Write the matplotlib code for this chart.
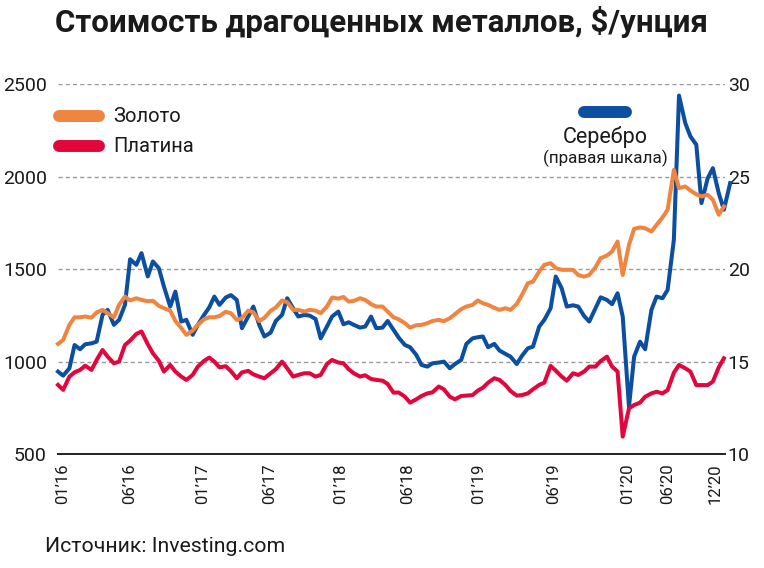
import matplotlib
matplotlib.use("Agg")
import matplotlib.pyplot as plt
from matplotlib.lines import Line2D
import pandas as pd

plt.rcParams['font.family'] = ['Roboto', 'DejaVu Sans']

dates = pd.date_range('2016-01-01', periods=121, freq='SMS')

gold = [1096, 1117, 1199, 1240, 1240, 1244, 1238, 1266, 1280, 1262,
        1240, 1307, 1352, 1331, 1343, 1334, 1327, 1329, 1302, 1289,
        1276, 1220, 1182, 1145, 1168, 1199, 1229, 1240, 1240, 1247,
        1270, 1262, 1226, 1235, 1276, 1267, 1220, 1237, 1275, 1293,
        1331, 1322, 1280, 1280, 1271, 1280, 1276, 1262, 1298, 1347,
        1341, 1350, 1325, 1329, 1343, 1334, 1311, 1298, 1298, 1271,
        1240, 1229, 1208, 1184, 1197, 1199, 1208, 1220, 1226, 1219,
        1235, 1257, 1284, 1298, 1307, 1331, 1316, 1307, 1291, 1280,
        1289, 1280, 1312, 1361, 1424, 1433, 1488, 1524, 1533, 1506,
        1497, 1497, 1497, 1469, 1460, 1469, 1511, 1560, 1574, 1596,
        1650, 1469, 1632, 1719, 1726, 1722, 1704, 1740, 1780, 1822,
        2038, 1939, 1948, 1926, 1906, 1894, 1903, 1876, 1795, 1840]

platinum = [874, 847, 919, 942, 955, 978, 955, 1009, 1063, 1027,
            991, 1000, 1090, 1114, 1150, 1163, 1094, 1045, 1005, 946,
            982, 946, 919, 901, 928, 973, 1004, 1022, 1000, 969,
            975, 948, 910, 942, 950, 931, 919, 910, 937, 959,
            1000, 964, 919, 928, 937, 937, 919, 928, 987, 1009,
            995, 991, 959, 937, 919, 926, 906, 901, 897, 879,
            832, 833, 810, 778, 796, 814, 828, 834, 865, 850,
            810, 796, 814, 816, 819, 843, 859, 886, 910, 901,
            874, 841, 816, 819, 828, 850, 874, 886, 977, 951,
            919, 897, 937, 928, 946, 973, 973, 1003, 1027, 973,
            946, 594, 747, 765, 778, 810, 828, 837, 828, 846,
            940, 982, 964, 946, 873, 873, 873, 892, 969, 1018]

silver = [14.46, 14.24, 14.64, 15.90, 15.67, 15.94, 15.99, 16.08, 17.53, 17.80,
          16.99, 17.26, 18.07, 20.54, 20.24, 20.87, 19.61, 20.42, 20.06, 19.06,
          17.98, 18.79, 17.17, 17.26, 16.45, 16.99, 17.53, 17.93, 18.52, 18.07,
          18.47, 18.60, 18.34, 16.81, 17.44, 17.98, 16.99, 16.36, 16.57, 17.20,
          17.53, 18.43, 17.89, 17.44, 17.53, 17.49, 17.31, 16.26, 16.90, 17.44,
          17.71, 17.02, 17.13, 16.99, 16.84, 16.90, 17.44, 16.81, 16.84, 17.20,
          16.72, 16.30, 15.90, 15.78, 15.36, 14.82, 14.73, 14.91, 14.95, 15.00,
          14.64, 14.87, 15.09, 15.96, 16.26, 16.32, 16.36, 15.78, 15.96, 15.60,
          15.42, 15.27, 14.87, 15.31, 15.72, 15.81, 16.90, 17.26, 17.89, 19.61,
          18.97, 17.98, 18.05, 17.98, 17.47, 17.17, 17.89, 18.48, 18.34, 18.11,
          18.70, 17.44, 12.56, 15.27, 16.08, 15.67, 17.80, 18.52, 18.43, 18.88,
          21.59, 29.40, 27.91, 27.19, 26.74, 23.58, 24.93, 25.47, 24.12, 23.22,
          24.66]

left_ticks = [500, 1000, 1500, 2000, 2500]
right_ticks = [10, 15, 20, 25, 30]
tick_dates = ['2016-01-14', '2016-07-14', '2017-01-29', '2017-07-30', '2018-02-06',
              '2018-08-07', '2019-02-16', '2019-09-08', '2020-03-27', '2020-07-14',
              '2020-11-21']
tick_labels = ["01’16", "06’16", "01’17", "06’17", "01’18", "06’18",
               "01’19", "06’19", "01’20", "06’20", "12’20"]

ORANGE = '#EF8540'
RED = '#E1063C'
BLUE = '#0C4FA1'
TXT = '#1a1a1a'

fig = plt.figure(figsize=(7.64, 5.68), dpi=100)
ax_s = fig.add_axes([58 / 764, 114 / 568, 667 / 764, 369.5 / 568])
ax_s.plot(dates, silver, color=BLUE, lw=2.9, clip_on=False, zorder=2)
ax_s.set_ylim(10, 30)
ax_s.set_xlim(pd.Timestamp('2016-01-01'), pd.Timestamp('2020-12-18'))

ax_g = ax_s.twinx()
ax_g.plot(dates[:len(platinum)], platinum, color=RED, lw=2.9, clip_on=False)
ax_g.plot(dates[:len(gold)], gold, color=ORANGE, lw=2.9, clip_on=False)
ax_g.set_ylim(500, 2500)

ax_s.yaxis.tick_right()
ax_g.yaxis.tick_left()
ax_s.set_yticks(right_ticks)
ax_g.set_yticks(left_ticks)
ax_s.set_xticks(pd.to_datetime(tick_dates))
ax_s.set_xticklabels(tick_labels, rotation=90)

ax_s.grid(axis='y', color='#9a9a9a', ls=(0, (3, 2.2)), lw=1.0)
ax_s.set_axisbelow(True)
for a in (ax_s, ax_g):
    for side in ('top', 'left', 'right', 'bottom'):
        a.spines[side].set_visible(False)
ax_s.spines['bottom'].set_visible(True)
ax_s.spines['bottom'].set_color('#222222')
ax_s.spines['bottom'].set_linewidth(1.4)

ax_s.tick_params(axis='y', length=0, pad=2, labelsize=14, labelcolor=TXT)
ax_g.tick_params(axis='y', length=0, pad=8, labelsize=14, labelcolor=TXT)
ax_s.tick_params(axis='x', length=0, pad=7, labelsize=12, labelcolor=TXT)

fig.text(0.499, 1 - 22 / 568, 'Стоимость драгоценных металлов, $/унция',
         ha='center', va='center', fontsize=22.5, fontweight='bold', color=TXT)

# legend bars
for x0, x1, y, c in [(59, 99, 116, ORANGE), (59, 99, 146, RED), (584, 626, 112, BLUE)]:
    fig.add_artist(Line2D([x0 / 764, x1 / 764], [1 - y / 568, 1 - y / 568],
                          color=c, lw=8.6, solid_capstyle='round'))
fig.text(113 / 764, 1 - 116 / 568, 'Золото', ha='left', va='center', fontsize=14.5, color=TXT)
fig.text(113 / 764, 1 - 146 / 568, 'Платина', ha='left', va='center', fontsize=14.5, color=TXT)
fig.text(605 / 764, 1 - 137 / 568, 'Серебро', ha='center', va='center', fontsize=15.5, color=TXT)
fig.text(605 / 764, 1 - 158 / 568, '(правая шкала)', ha='center', va='center', fontsize=12.3, color=TXT)

fig.text(45 / 764, 1 - 547 / 568, 'Источник: Investing.com', ha='left', va='center',
         fontsize=15.3, color=TXT)

fig.savefig('out.png', dpi=100)
